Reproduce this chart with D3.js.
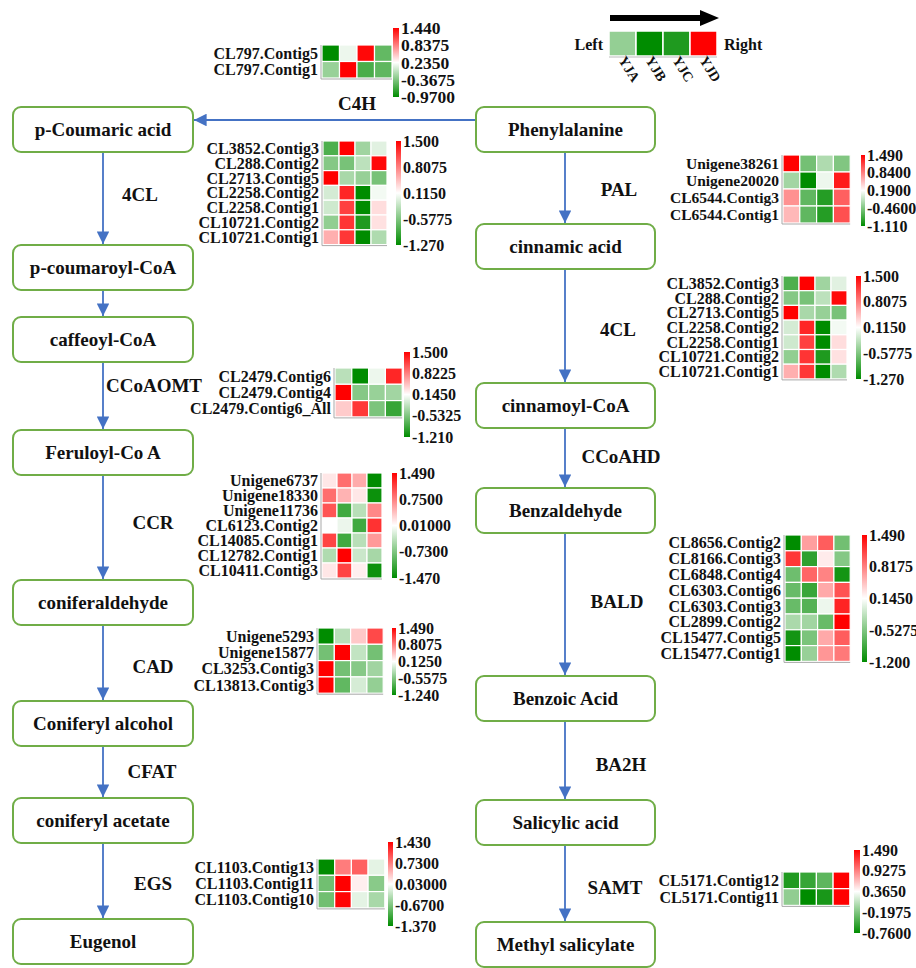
<!DOCTYPE html>
<html>
<head>
<meta charset="utf-8">
<script src="https://cdn.jsdelivr.net/npm/d3@7"></script>
<style>
  body { margin: 0; background: #fff; }
  svg { display: block; }
  text { font-family: "Times New Roman", "Liberation Serif", serif; font-weight: bold; fill: #111; }
</style>
</head>
<body>
<svg id="chart" width="916" height="968"></svg>
<script>
// ---------- data ----------
const samples = ["YJA", "YJB", "YJC", "YJD"];

const leftNodes = ["p-Coumaric acid", "p-coumaroyl-CoA", "caffeoyl-CoA", "Feruloyl-Co A",
  "coniferaldehyde", "Coniferyl alcohol", "coniferyl acetate", "Eugenol"];
const rightNodes = ["Phenylalanine", "cinnamic acid", "cinnamoyl-CoA", "Benzaldehyde",
  "Benzoic Acid", "Salicylic acid", "Methyl salicylate"];

const enzymes = ["C4H", "4CL", "CCoAOMT", "CCR", "CAD", "CFAT", "EGS",
  "PAL", "4CL", "CCoAHD", "BALD", "BA2H", "SAMT"];

// legend swatches (relative expression, -1 .. 1)
const legendValues = [-0.42, -1.0, -0.88, 1.0];

const c4hGenes = ["CL797.Contig5", "CL797.Contig1"];
const c4hValues = [[-0.97, 0.15, 1.40, -0.50], [-0.25, 1.44, -0.62, -0.52]];
const c4hTicks = ["1.440", "0.8375", "0.2350", "-0.3675", "-0.9700"];

const fourCLGenes = ["CL3852.Contig3", "CL288.Contig2", "CL2713.Contig5", "CL2258.Contig2",
  "CL2258.Contig1", "CL10721.Contig2", "CL10721.Contig1"];
const fourCLValues = [
  [-0.85, 1.50, -0.40, -0.05],
  [-0.55, -0.62, -0.25, 1.45],
  [1.50, -0.35, -0.45, -0.62],
  [-0.12, 1.30, -1.27, 0.05],
  [-0.15, 1.15, -1.27, 0.30],
  [-0.48, 1.22, -1.10, 0.28],
  [0.55, 1.20, -1.27, -0.32]];
const fourCLTicks = ["1.500", "0.8075", "0.1150", "-0.5775", "-1.270"];

const palGenes = ["Unigene38261", "Unigene20020", "CL6544.Contig3", "CL6544.Contig1"];
const palValues = [
  [1.49, -0.52, -0.22, -0.45],
  [-0.28, -1.11, 0.10, 1.35],
  [0.75, -0.62, -0.92, 1.00],
  [0.55, -0.62, -0.92, 1.08]];
const palTicks = ["1.490", "0.8400", "0.1900", "-0.4600", "-1.110"];

const ccoaomtGenes = ["CL2479.Contig6", "CL2479.Contig4", "CL2479.Contig6_All"];
const ccoaomtValues = [
  [-0.22, -1.21, 0.05, 1.30],
  [1.50, -0.50, -0.40, -0.35],
  [0.42, 1.20, -0.55, -0.92]];
const ccoaomtTicks = ["1.500", "0.8225", "0.1450", "-0.5325", "-1.210"];

const ccrGenes = ["Unigene6737", "Unigene18330", "Unigene11736", "CL6123.Contig2",
  "CL14085.Contig1", "CL12782.Contig1", "CL10411.Contig3"];
const ccrValues = [
  [0.15, 0.85, 0.50, -1.47],
  [0.85, 0.45, 0.15, -1.40],
  [1.00, -1.10, -0.40, 0.70],
  [0.01, -0.10, -1.10, 1.20],
  [1.10, -1.10, -0.40, 0.60],
  [-0.45, 1.49, -0.30, -0.50],
  [0.15, 1.10, 0.10, -1.40]];
const ccrTicks = ["1.490", "0.7500", "0.01000", "-0.7300", "-1.470"];

const cadGenes = ["Unigene5293", "Unigene15877", "CL3253.Contig3", "CL13813.Contig3"];
const cadValues = [
  [-1.24, -0.25, 0.42, 1.10],
  [-0.62, 1.49, -0.20, -0.62],
  [1.49, -0.62, -0.52, -0.38],
  [1.49, -0.72, -0.10, -0.45]];
const cadTicks = ["1.490", "0.8075", "0.1250", "-0.5575", "-1.240"];

const baldGenes = ["CL8656.Contig2", "CL8166.Contig3", "CL6848.Contig4", "CL6303.Contig6",
  "CL6303.Contig3", "CL2899.Contig2", "CL15477.Contig5", "CL15477.Contig1"];
const baldValues = [
  [-1.20, 0.65, 1.00, -0.60],
  [1.20, -0.95, 0.25, -0.50],
  [-0.62, 0.95, 0.80, -1.10],
  [-0.65, -0.90, 0.60, 1.05],
  [-0.65, -0.75, 0.05, 1.30],
  [-0.30, -0.35, -0.65, 1.49],
  [-1.10, -0.55, 0.60, 1.00],
  [-1.20, -0.40, 0.70, 0.85]];
const baldTicks = ["1.490", "0.8175", "0.1450", "-0.5275", "-1.200"];

const egsGenes = ["CL1103.Contig13", "CL1103.Contig11", "CL1103.Contig10"];
const egsValues = [
  [-1.37, 0.75, 0.90, -0.12],
  [-0.75, 1.43, 0.12, -0.62],
  [-0.75, 1.40, -0.12, -0.45]];
const egsTicks = ["1.430", "0.7300", "0.03000", "-0.6700", "-1.370"];

const samtGenes = ["CL5171.Contig12", "CL5171.Contig11"];
const samtValues = [
  [-0.62, -0.52, -0.35, 1.49],
  [-0.12, -0.76, -0.65, 1.49]];
const samtTicks = ["1.490", "0.9275", "0.3650", "-0.1975", "-0.7600"];

// ---------- layout ----------
const GREEN = "#008c00", RED = "#ff0000", WHITE = "#ffffff";
const BOX_STROKE = "#70ad47", ARROW = "#4472c4";

const leftCol = { x: 13, w: 180, h: 45, tops: [107, 245, 317, 430, 580, 701, 798, 919] };
const rightCol = { x: 476, w: 179, h: 45, tops: [107, 224, 383, 488, 676, 800, 922] };

const enzymePos = [
  [357, 103], [140, 194], [154, 385], [153, 522], [153, 666], [152, 771], [153, 883],
  [619, 189], [618, 329], [621, 456], [617, 601], [621, 764], [615, 887]];

const heatmaps = [
  { genes: c4hGenes, values: c4hValues, ticks: c4hTicks,
    L: { x: 322, y: 45, cw: 17.5, ch: 16.5, bx: 393, bw: 6, by0: 28, by1: 97, fs: 16, tfs: 17.5 } },
  { genes: fourCLGenes, values: fourCLValues, ticks: fourCLTicks,
    L: { x: 323, y: 141, cw: 16, ch: 14.8, bx: 396, bw: 5, by0: 141, by1: 245, fs: 16, tfs: 16 } },
  { genes: palGenes, values: palValues, ticks: palTicks,
    L: { x: 783, y: 155, cw: 16.8, ch: 17, bx: 861, bw: 4, by0: 155, by1: 226, fs: 15.5, tfs: 16 } },
  { genes: fourCLGenes, values: fourCLValues, ticks: fourCLTicks,
    L: { x: 783, y: 276, cw: 16, ch: 14.7, bx: 856, bw: 5, by0: 276, by1: 379, fs: 16, tfs: 16 } },
  { genes: ccoaomtGenes, values: ccoaomtValues, ticks: ccoaomtTicks,
    L: { x: 335, y: 368, cw: 16.8, ch: 16.3, bx: 404, bw: 6, by0: 352, by1: 437, fs: 16, tfs: 16 } },
  { genes: ccrGenes, values: ccrValues, ticks: ccrTicks,
    L: { x: 322, y: 473, cw: 15, ch: 15, bx: 392, bw: 5, by0: 473, by1: 578, fs: 16, tfs: 16 } },
  { genes: cadGenes, values: cadValues, ticks: cadTicks,
    L: { x: 318, y: 628, cw: 16.3, ch: 16.3, bx: 392, bw: 4, by0: 628, by1: 695, fs: 16, tfs: 16 } },
  { genes: baldGenes, values: baldValues, ticks: baldTicks,
    L: { x: 785, y: 535, cw: 16.3, ch: 15.8, bx: 862, bw: 5, by0: 535, by1: 662, fs: 16, tfs: 16 } },
  { genes: egsGenes, values: egsValues, ticks: egsTicks,
    L: { x: 318, y: 859, cw: 16.7, ch: 16.3, bx: 388, bw: 5, by0: 842, by1: 926, fs: 16, tfs: 16 } },
  { genes: samtGenes, values: samtValues, ticks: samtTicks,
    L: { x: 783, y: 872, cw: 16.7, ch: 16.7, bx: 854, bw: 6, by0: 850, by1: 933, fs: 16, tfs: 16 } }
];

// ---------- drawing ----------
const svg = d3.select("#chart");
const defs = svg.append("defs");

defs.append("marker")
  .attr("id", "arrowhead").attr("viewBox", "0 0 10 10")
  .attr("refX", 10).attr("refY", 5)
  .attr("markerWidth", 7).attr("markerHeight", 7)
  .attr("markerUnits", "strokeWidth").attr("orient", "auto")
  .append("path").attr("d", "M0,0 L10,5 L0,10 Z").attr("fill", ARROW);

const grad = defs.append("linearGradient").attr("id", "cbar")
  .attr("x1", 0).attr("y1", 0).attr("x2", 0).attr("y2", 1);
grad.append("stop").attr("offset", "0%").attr("stop-color", RED);
grad.append("stop").attr("offset", "50%").attr("stop-color", WHITE);
grad.append("stop").attr("offset", "100%").attr("stop-color", GREEN);

// pathway arrows
function columnArrows(col, ax) {
  const segs = [];
  for (let i = 0; i < col.tops.length - 1; i++) {
    segs.push([ax, col.tops[i] + col.h, ax, col.tops[i + 1] - 1]);
  }
  return segs;
}
const arrowSegs = [
  ...columnArrows(leftCol, leftCol.x + 90),
  ...columnArrows(rightCol, rightCol.x + 89),
  [rightCol.x, 120, leftCol.x + leftCol.w + 1, 120]
];
svg.append("g").selectAll("line").data(arrowSegs).join("line")
  .attr("x1", d => d[0]).attr("y1", d => d[1])
  .attr("x2", d => d[2]).attr("y2", d => d[3])
  .attr("stroke", ARROW).attr("stroke-width", 1.8)
  .attr("marker-end", "url(#arrowhead)");

// compound boxes
function drawColumn(names, col) {
  const g = svg.append("g").selectAll("g").data(names).join("g")
    .attr("transform", (d, i) => `translate(${col.x},${col.tops[i]})`);
  g.append("rect").attr("width", col.w).attr("height", col.h)
    .attr("rx", 8).attr("ry", 8)
    .attr("fill", "#fff").attr("stroke", BOX_STROKE).attr("stroke-width", 2);
  g.append("text").attr("x", col.w / 2).attr("y", col.h / 2)
    .attr("text-anchor", "middle").attr("dominant-baseline", "central")
    .attr("font-size", 19).text(d => d);
}
drawColumn(leftNodes, leftCol);
drawColumn(rightNodes, rightCol);

// enzyme labels
svg.append("g").selectAll("text").data(enzymes).join("text")
  .attr("x", (d, i) => enzymePos[i][0]).attr("y", (d, i) => enzymePos[i][1])
  .attr("text-anchor", "middle").attr("dominant-baseline", "central")
  .attr("font-size", 19).text(d => d);

// heatmaps with colour bars
function drawHeatmap(hm) {
  const { genes, values, ticks, L } = hm;
  const g = svg.append("g");
  const x = d3.scaleBand().domain(samples).range([L.x, L.x + L.cw * samples.length]);
  const y = d3.scaleBand().domain(genes).range([L.y, L.y + L.ch * genes.length]);
  const vmax = +ticks[0], vmin = +ticks[ticks.length - 1];
  const color = d3.scaleLinear().domain([vmin, (vmin + vmax) / 2, vmax])
    .range([GREEN, WHITE, RED]).clamp(true);

  const cells = genes.flatMap((gene, r) => samples.map((s, c) => ({ gene, s, v: values[r][c] })));
  g.selectAll("rect.cell").data(cells).join("rect").attr("class", "cell")
    .attr("x", d => x(d.s)).attr("y", d => y(d.gene))
    .attr("width", x.bandwidth()).attr("height", y.bandwidth())
    .attr("fill", d => color(d.v)).attr("stroke", "#fff").attr("stroke-width", 1.2);

  // thin frame lines on the left and bottom
  const [x0, x1] = x.range(), [y0, y1] = y.range();
  g.append("path")
    .attr("d", `M${x0 - 1},${y0} V${y1 + 1} H${x1}`)
    .attr("fill", "none").attr("stroke", "#a9a9a9").attr("stroke-width", 1);

  // row labels
  g.selectAll("text.gene").data(genes).join("text").attr("class", "gene")
    .attr("x", x0 - 4).attr("y", d => y(d) + y.bandwidth() / 2)
    .attr("text-anchor", "end").attr("dominant-baseline", "central")
    .attr("font-size", L.fs).text(d => d);

  // colour bar
  g.append("rect").attr("x", L.bx).attr("y", L.by0)
    .attr("width", L.bw).attr("height", L.by1 - L.by0).attr("fill", "url(#cbar)");
  const ts = d3.scaleLinear().domain([vmin, vmax]).range([L.by1, L.by0]);
  const axis = d3.axisRight(ts).tickValues(ticks.map(Number))
    .tickFormat((d, i) => ticks[i]).tickSize(0).tickPadding(2);
  const ag = g.append("g").attr("transform", `translate(${L.bx + L.bw},0)`).call(axis);
  ag.select(".domain").remove();
  ag.selectAll("text")
    .attr("font-family", '"Times New Roman", "Liberation Serif", serif')
    .attr("font-weight", "bold").attr("font-size", L.tfs).attr("fill", "#111");
}
heatmaps.forEach(drawHeatmap);

// direction legend
const lg = svg.append("g");
const lx = d3.scaleBand().domain(samples).range([609, 717]);
const lcolor = d3.scaleLinear().domain([-1, 0, 1]).range([GREEN, WHITE, RED]);
lg.append("path").attr("d", "M610,15 H700 V10 L719,18 L700,26 V21 H610 Z").attr("fill", "#000");
lg.selectAll("rect").data(samples).join("rect")
  .attr("x", d => lx(d)).attr("y", 31)
  .attr("width", lx.bandwidth()).attr("height", 25)
  .attr("fill", (d, i) => lcolor(legendValues[i])).attr("stroke", "#fff").attr("stroke-width", 1.5);
lg.append("line").attr("x1", 609).attr("x2", 717).attr("y1", 57).attr("y2", 57)
  .attr("stroke", "#bbb").attr("stroke-width", 1);
lg.append("text").attr("x", 603).attr("y", 44).attr("text-anchor", "end")
  .attr("dominant-baseline", "central").attr("font-size", 16).text("Left");
lg.append("text").attr("x", 724).attr("y", 44)
  .attr("dominant-baseline", "central").attr("font-size", 16).text("Right");
lg.selectAll("text.samp").data(samples).join("text").attr("class", "samp")
  .attr("transform", d => `translate(${lx(d) + 9},${60}) rotate(58)`)
  .attr("font-size", 14).text(d => d);
</script>
</body>
</html>
